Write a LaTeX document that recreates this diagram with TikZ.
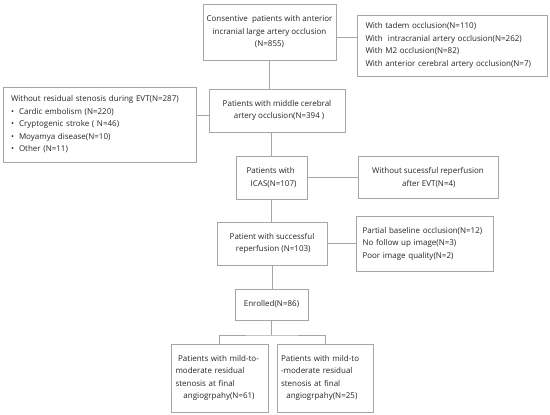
\documentclass[tikz,border=0pt]{standalone}
\usepackage{fontspec}
\setmainfont{Open Sans}
\usetikzlibrary{positioning}

\tikzset{
  box/.style={draw=gray!70, line width=0.8pt, fill=white, inner sep=2pt,
    font=\fontsize{8}{12.5}\selectfont, text=black!85},
  link/.style={draw=gray!70, line width=0.8pt}
}

\begin{document}
\begin{tikzpicture}[x=1pt, y=-1pt]
  \useasboundingbox (0,0) rectangle (550,415);

  % main flow
  \node[box, minimum width=133pt, minimum height=56pt, align=center] (start) at (269.5,32)
    {Consentive\ \ patients with anterior\\ incranial large artery occlusion\\ (N=855)};
  \node[box, minimum width=136pt, minimum height=43pt, align=center] (mca) at (277,110.5)
    {Patients with middle cerebral\\ \ \ artery occlusion(N=394 )};
  \node[box, minimum width=71pt, minimum height=43pt, align=left] (icas) at (271.5,177.5)
    {Patients with\\ \ \ ICAS(N=107)};
  \node[box, minimum width=110pt, minimum height=43pt, align=left] (reperf) at (272,243.5)
    {Patient with successful\\ \ \ \ reperfusion (N=103)};
  \node[box, minimum width=73pt, minimum height=31pt] (enrolled) at (271.5,304.5)
    {Enrolled(N=86)};

  % exclusions
  \node[box, minimum width=190pt, minimum height=61pt, text width=173pt, align=left] (exA) at (452,45.5)
    {With tadem occlusion(N=110)\\ With\ \ intracranial artery occlusion(N=262)\\
     With M2 occlusion(N=82)\\ With anterior cerebral artery occlusion(N=7)};
  \node[box, minimum width=193pt, minimum height=75pt, text width=177pt, align=left] (exB) at (99.5,124.5)
    {Without residual stenosis during EVT(N=287)\\
     \textbullet\hspace{5pt}Cardic embolism (N=220)\\
     \textbullet\hspace{5pt}Cryptogenic stroke ( N=46)\\
     \textbullet\hspace{5pt}Moyamya disease(N=10)\\
     \textbullet\hspace{5pt}Other (N=11)};
  \node[box, minimum width=140pt, minimum height=42pt, align=left] (exC) at (428,177.5)
    {Without sucessful reperfusion\\ \hspace{30pt}after EVT(N=4)};
  \node[box, minimum width=137pt, minimum height=55pt, text width=124pt, align=left] (exD) at (424.5,243.5)
    {Partial baseline occlusion(N=12)\\ No follow up image(N=3)\\ Poor image quality(N=2)};

  % groups
  \node[box, minimum width=97pt, minimum height=68pt, text width=88pt, align=left] (mild) at (219.5,378)
    {\ Patients with mild-to-\\ moderate residual\\ stenosis at final\\ \ \ \ angiogrpahy(N=61)};
  \node[box, minimum width=96pt, minimum height=68pt, text width=88pt, align=left] (moderate) at (325,378)
    {Patients with mild-to\\ -moderate residual\\ stenosis at final\\ \ \ angiogrpahy(N=25)};

  % connectors
  \coordinate (a1) at (start.east |- 0,37);
  \coordinate (b1) at (mca.west |- 0,115);
  \coordinate (split) at (enrolled.south |- 0,335);
  \draw[link] (start.south) -- (start.south |- mca.north);
  \draw[link] (a1) -- (a1 -| exA.west);
  \draw[link] (b1) -- (b1 -| exB.east);
  \draw[link] (icas.north |- mca.south) -- (icas.north);
  \draw[link] (icas.east) -- (exC.west);
  \draw[link] (icas.south) -- (icas.south |- reperf.north);
  \draw[link] (reperf.east) -- (exD.west);
  \draw[link] (reperf.south) -- (reperf.south |- enrolled.north);
  \draw[link] (enrolled.south) -- (split);
  \draw[link] (mild.north) |- (split) -| (moderate.north);
\end{tikzpicture}
\end{document}
